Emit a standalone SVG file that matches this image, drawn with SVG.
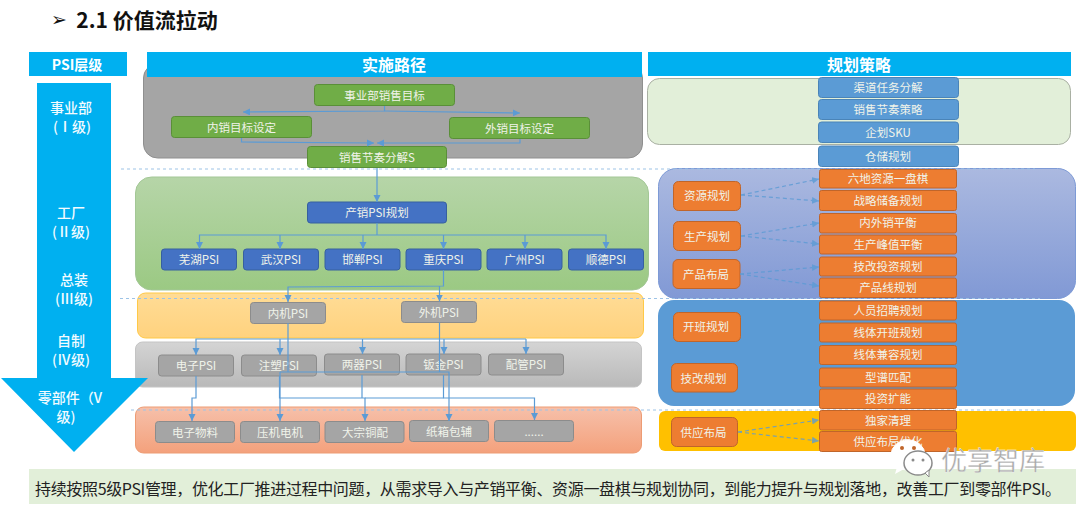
<svg xmlns="http://www.w3.org/2000/svg" width="1080" height="507" viewBox="0 0 1080 507">
<style>
text{font-family:"Noto Sans CJK SC","Noto Sans",sans-serif;text-anchor:middle;dominant-baseline:central}
.t{font-size:11.5px;fill:#f0f3ea}
.hd{font-size:16px;font-weight:700;fill:#fff}
.lv{font-size:14px;fill:#f2fbff;font-weight:500}
.g{fill:#70ad47;stroke:#5a8f38}
.b{fill:#4472c4;stroke:#36609f}
.y{fill:#a5a5a5;stroke:#8c8c8c}
.m{fill:#5b9bd5;stroke:#4a84b8}
.o{fill:#ed7d31;stroke:#c0652a}
.box{stroke-width:1}
.c{fill:none;stroke:#5b9bd5;stroke-width:1.2}
.d{fill:none;stroke:#5b9bd5;stroke-width:1.2;stroke-dasharray:4 3;opacity:.8}
.sep{fill:none;stroke:#9dc3e6;stroke-width:1;stroke-dasharray:3 3}
</style>
<defs>
<marker id="a" markerWidth="8" markerHeight="8" refX="7" refY="3.500" orient="auto" markerUnits="userSpaceOnUse"><path d="M0 0L7 3.500L0 7Z" fill="#5b9bd5"/></marker>
<linearGradient id="pg" x1="0" y1="0" x2="0" y2="1"><stop offset="0" stop-color="#b6d5a8"/><stop offset="1" stop-color="#9bc983"/></linearGradient>
<linearGradient id="pp" x1="0" y1="0" x2="0" y2="1"><stop offset="0" stop-color="#abb9e0"/><stop offset="1" stop-color="#8199d5"/></linearGradient>
<linearGradient id="py" x1="0" y1="0" x2="0" y2="1"><stop offset="0" stop-color="#ffdc96"/><stop offset="1" stop-color="#ffd27e"/></linearGradient>
<linearGradient id="pq" x1="0" y1="0" x2="0" y2="1"><stop offset="0" stop-color="#d4d4d4"/><stop offset="1" stop-color="#b9b9b9"/></linearGradient>
<linearGradient id="ps" x1="0" y1="0" x2="0" y2="1"><stop offset="0" stop-color="#f6c0aa"/><stop offset="1" stop-color="#f4a17c"/></linearGradient>
</defs>
<rect width="1080" height="507" fill="#fff"/>
<g id="title"><text x="59" y="19" font-size="19" style="font-family:'DejaVu Sans',sans-serif" fill="#111">➢</text><text x="147" y="19" font-size="21" font-weight="700" fill="#111">2.1 价值流拉动</text></g>

<g id="panels">
<rect id="panel-biz" x="143.500" y="64" width="499" height="94" rx="14" fill="#a5a5a5" stroke="#8f8f8f"/>
<rect id="panel-factory" x="135.500" y="177" width="513" height="113" rx="16" fill="url(#pg)" stroke="#a3c796"/>
<rect id="panel-assembly" x="137.500" y="293" width="506" height="45" rx="8" fill="url(#py)" stroke="#ffc947"/>
<rect id="panel-self" x="135.500" y="342" width="506" height="45" rx="7" fill="url(#pq)" stroke="#c4c4c4"/>
<rect id="panel-parts" x="135.500" y="407" width="506" height="46" rx="8" fill="url(#ps)" stroke="#ed9c74"/>
<rect id="panel-r1" x="647.500" y="78.500" width="423" height="66" rx="12" fill="#e2efd9" stroke="#a9b0a3"/>
<rect id="panel-r2" x="658.500" y="168.500" width="417" height="130" rx="18" fill="url(#pp)" stroke="#7d9ad6"/>
<rect id="panel-r3" x="658" y="300" width="417" height="106" rx="16" fill="#5b9bd5"/>
<rect id="panel-r4" x="659" y="411" width="417" height="40" rx="6" fill="#ffc000"/>
</g>

<g id="separators">
<path class="sep" d="M121 169H1035"/>
<path class="sep" d="M120 298.500H1040"/>
<path class="sep" d="M131 410H1045"/>
</g>

<g id="head-psi"><rect x="29" y="52" width="98" height="24" fill="#00b0f0"/><text x="77" y="63.500" font-size="14" font-weight="700" fill="#fff">PSI层级</text></g>
<g id="head-path"><rect x="147" y="52" width="495" height="25" fill="#00b0f0"/><text class="hd" x="394" y="63.500">实施路径</text></g>
<g id="head-strategy"><rect x="648" y="52" width="423" height="24" fill="#00b0f0"/><text class="hd" x="859" y="63.500">规划策略</text></g>

<g id="level-arrow">
<path d="M37 83H111V378H148L74 452L1 378H37Z" fill="#00b0f0"/>
<text class="lv" x="71" y="107">事业部</text><text class="lv" x="72" y="126">(Ⅰ级)</text>
<text class="lv" x="71" y="212">工厂</text><text class="lv" x="71" y="231">(Ⅱ级)</text>
<text class="lv" x="74" y="279">总装</text><text class="lv" x="74" y="298">(Ⅲ级)</text>
<text class="lv" x="71" y="340">自制</text><text class="lv" x="71" y="359">(Ⅳ级)</text>
<text class="lv" x="70" y="397">零部件（V</text><text class="lv" x="66" y="416">级)</text>
</g>

<g id="n1"><rect class="box g" x="314.500" y="84.500" width="140" height="21" rx="3"/><text class="t" x="384.500" y="94.500">事业部销售目标</text></g>
<g id="n2"><rect class="box g" x="171.500" y="116.500" width="140" height="21" rx="3"/><text class="t" x="241.500" y="126.500">内销目标设定</text></g>
<g id="n3"><rect class="box g" x="449.500" y="117.500" width="140" height="21" rx="3"/><text class="t" x="519.500" y="127.500">外销目标设定</text></g>
<g id="n4"><rect class="box g" x="307.500" y="146.500" width="139" height="21" rx="3"/><text class="t" x="377" y="156.500">销售节奏分解S</text></g>
<g id="n5"><rect class="box b" x="307.500" y="202" width="139" height="21" rx="3"/><text class="t" x="377" y="212">产销PSI规划</text></g>
<g id="c1"><rect class="box b" x="161.500" y="249" width="75" height="21" rx="3"/><text class="t" x="199" y="259">芜湖PSI</text></g>
<g id="c2"><rect class="box b" x="243.500" y="249" width="75" height="21" rx="3"/><text class="t" x="281" y="259">武汉PSI</text></g>
<g id="c3"><rect class="box b" x="325" y="249" width="75" height="21" rx="3"/><text class="t" x="362.500" y="259">邯郸PSI</text></g>
<g id="c4"><rect class="box b" x="406" y="249" width="75" height="21" rx="3"/><text class="t" x="443.500" y="259">重庆PSI</text></g>
<g id="c5"><rect class="box b" x="487" y="249" width="75" height="21" rx="3"/><text class="t" x="524.500" y="259">广州PSI</text></g>
<g id="c6"><rect class="box b" x="568.500" y="249" width="75" height="21" rx="3"/><text class="t" x="606" y="259">顺德PSI</text></g>
<g id="a1"><rect class="box y" x="250.500" y="302.500" width="75" height="21" rx="3"/><text class="t" x="288" y="312.500">内机PSI</text></g>
<g id="a2"><rect class="box y" x="401.500" y="301.500" width="75" height="21" rx="3"/><text class="t" x="439" y="311.500">外机PSI</text></g>
<g id="s1"><rect class="box y" x="158.500" y="355" width="75" height="21" rx="3"/><text class="t" x="196" y="365">电子PSI</text></g>
<g id="s2"><rect class="box y" x="241.500" y="355" width="75" height="21" rx="3"/><text class="t" x="279" y="365">注塑PSI</text></g>
<g id="s3"><rect class="box y" x="324.500" y="354" width="75" height="21" rx="3"/><text class="t" x="362" y="364">两器PSI</text></g>
<g id="s4"><rect class="box y" x="406" y="354" width="75" height="21" rx="3"/><text class="t" x="443.500" y="364">钣金PSI</text></g>
<g id="s5"><rect class="box y" x="488.500" y="354" width="75" height="21" rx="3"/><text class="t" x="526" y="364">配管PSI</text></g>
<g id="p1"><rect class="box y" x="155.500" y="421.500" width="79" height="21" rx="3"/><text class="t" x="195" y="431.500">电子物料</text></g>
<g id="p2"><rect class="box y" x="240.500" y="421.500" width="79" height="21" rx="3"/><text class="t" x="280" y="431.500">压机电机</text></g>
<g id="p3"><rect class="box y" x="325" y="421.500" width="79" height="21" rx="3"/><text class="t" x="365" y="431.500">大宗铜配</text></g>
<g id="p4"><rect class="box y" x="409.500" y="420.500" width="79" height="21" rx="3"/><text class="t" x="449" y="431">纸箱包辅</text></g>
<g id="p5"><rect class="box y" x="494.500" y="420.500" width="79" height="21" rx="3"/><text class="t" x="534" y="431">......</text></g>

<g id="m1"><rect class="box m" x="818.500" y="77.500" width="140" height="20" rx="3"/><text class="t" x="888" y="87">渠道任务分解</text></g>
<g id="m2"><rect class="box m" x="818.500" y="99.500" width="140" height="20" rx="3"/><text class="t" x="888" y="109">销售节奏策略</text></g>
<g id="m3"><rect class="box m" x="818.500" y="122" width="140" height="20.500" rx="3"/><text class="t" x="888" y="131.500">企划SKU</text></g>
<g id="m4"><rect class="box m" x="818.500" y="146" width="140" height="20.500" rx="3"/><text class="t" x="888" y="155.500">仓储规划</text></g>

<g id="o1"><rect class="box o" x="819.500" y="169.500" width="137" height="18.500" rx="2"/><text class="t" x="888" y="178">六地资源一盘棋</text></g>
<g id="o2"><rect class="box o" x="819.500" y="190.500" width="137" height="20" rx="2"/><text class="t" x="888" y="200">战略储备规划</text></g>
<g id="o3"><rect class="box o" x="819.500" y="213.500" width="137" height="19.500" rx="2"/><text class="t" x="888" y="222">内外销平衡</text></g>
<g id="o4"><rect class="box o" x="819.500" y="235" width="137" height="19" rx="2"/><text class="t" x="888" y="244">生产峰值平衡</text></g>
<g id="o5"><rect class="box o" x="819.500" y="257" width="137" height="19" rx="2"/><text class="t" x="888" y="266">技改投资规划</text></g>
<g id="o6"><rect class="box o" x="819.500" y="278" width="137" height="19.500" rx="2"/><text class="t" x="888" y="287">产品线规划</text></g>
<g id="o7"><rect class="box o" x="819.500" y="301" width="137" height="19" rx="2"/><text class="t" x="888" y="310">人员招聘规划</text></g>
<g id="o8"><rect class="box o" x="819.500" y="323" width="137" height="19" rx="2"/><text class="t" x="888" y="332">线体开班规划</text></g>
<g id="o9"><rect class="box o" x="819.500" y="345.500" width="137" height="19" rx="2"/><text class="t" x="888" y="354">线体兼容规划</text></g>
<g id="o10"><rect class="box o" x="819.500" y="368" width="137" height="19" rx="2"/><text class="t" x="888" y="377">型谱匹配</text></g>
<g id="o11"><rect class="box o" x="819.500" y="389" width="137" height="19.500" rx="2"/><text class="t" x="888" y="398">投资扩能</text></g>
<g id="o12"><rect class="box o" x="819.500" y="410.500" width="137" height="19.500" rx="2"/><text class="t" x="888" y="420">独家清理</text></g>
<g id="o13"><rect class="box o" x="819.500" y="431.500" width="137" height="20" rx="2"/><text class="t" x="888" y="441">供应布局优化</text></g>

<g id="l1"><rect class="box o" x="673.500" y="181.500" width="67" height="29" rx="5"/><text class="t" x="707" y="195">资源规划</text></g>
<g id="l2"><rect class="box o" x="673.500" y="221.500" width="67" height="29" rx="5"/><text class="t" x="707" y="235.500">生产规划</text></g>
<g id="l3"><rect class="box o" x="673" y="259.500" width="67" height="29" rx="5"/><text class="t" x="706" y="273.500">产品布局</text></g>
<g id="l4"><rect class="box o" x="673.500" y="312.500" width="67" height="29" rx="5"/><text class="t" x="706" y="326">开班规划</text></g>
<g id="l5"><rect class="box o" x="671.500" y="363.500" width="66" height="28.500" rx="5"/><text class="t" x="703.500" y="377.500">技改规划</text></g>
<g id="l6"><rect class="box o" x="671.500" y="417.500" width="66" height="29" rx="5"/><text class="t" x="703.500" y="431.500">供应布局</text></g>

<g id="connectors">
<path class="c" d="M384.500 106V111L243 112" marker-end="url(#a)"/>
<path class="c" d="M384.500 111L520 113" marker-end="url(#a)"/>
<path class="c" d="M241.500 138V142L374 143" marker-end="url(#a)"/>
<path class="c" d="M520 139V143L377 143" marker-end="url(#a)"/>
<path class="c" d="M377 168V202" marker-end="url(#a)"/>
<path class="c" d="M377 223V235"/>
<path class="c" d="M377 235H199.500V249" marker-end="url(#a)"/>
<path class="c" d="M280 235V249" marker-end="url(#a)"/>
<path class="c" d="M363 235V249" marker-end="url(#a)"/>
<path class="c" d="M377 235H606V249" marker-end="url(#a)"/>
<path class="c" d="M443.500 235V249" marker-end="url(#a)"/>
<path class="c" d="M525 235V249" marker-end="url(#a)"/>
<path class="c" d="M443.500 270V286L288 287V302" marker-end="url(#a)"/>
<path class="c" d="M439.500 286V301.500" marker-end="url(#a)"/>
<path class="c" d="M288 323V372"/>
<path class="c" d="M280 372H449V421" marker-end="url(#a)"/>
<path class="c" d="M280 372V421" marker-end="url(#a)"/>
<path class="c" d="M439.500 322.500V372"/>
<path class="c" d="M526 339H196V355" marker-end="url(#a)"/>
<path class="c" d="M526 339V354" marker-end="url(#a)"/>
<path class="c" d="M280 339V355" marker-end="url(#a)"/>
<path class="c" d="M362.500 339V354" marker-end="url(#a)"/>
<path class="c" d="M444 339V354" marker-end="url(#a)"/>
<path class="c" d="M196 376V398H192V421" marker-end="url(#a)"/>
<path class="c" d="M279.500 376V398H365V421" marker-end="url(#a)"/>
<path class="c" d="M362 375V398"/>
<path class="c" d="M443.500 375V398H534.500V420" marker-end="url(#a)"/>
<path class="c" d="M443.500 398H365"/>
<path class="d" d="M741 195L819 179" marker-end="url(#a)"/>
<path class="d" d="M741 195L819 201" marker-end="url(#a)"/>
<path class="d" d="M741 236L819 223" marker-end="url(#a)"/>
<path class="d" d="M741 236L819 244" marker-end="url(#a)"/>
<path class="d" d="M740 274L819 267" marker-end="url(#a)"/>
<path class="d" d="M740 274L819 286" marker-end="url(#a)"/>
<path class="d" d="M738 432L819 420" marker-end="url(#a)"/>
<path class="d" d="M738 432L819 441" marker-end="url(#a)"/>
</g>

<g id="summary"><rect x="29" y="469" width="1047" height="35" fill="#e2efd9"/><text x="548" y="487.500" font-size="16" fill="#222" textLength="1026" lengthAdjust="spacing">持续按照5级PSI管理，优化工厂推进过程中问题，从需求导入与产销平衡、资源一盘棋与规划协同，到能力提升与规划落地，改善工厂到零部件PSI。</text></g>

<g id="watermark">
<ellipse cx="908" cy="455" rx="17" ry="15" fill="#fff" stroke="#fff"/>
<path d="M897 467L895 474L904 469Z" fill="#fff"/>
<circle cx="902" cy="448" r="2" fill="#c0652a"/><circle cx="914" cy="448" r="2" fill="#c0652a"/>
<ellipse cx="918" cy="463" rx="14" ry="12" fill="#fff" stroke="#8a8a8a" stroke-width="1.500"/>
<path d="M925 473L929 477L929 470Z" fill="#fff" stroke="#8a8a8a"/>
<circle cx="913" cy="460" r="1.500" fill="#8a8a8a"/><circle cx="923" cy="460" r="1.500" fill="#8a8a8a"/>
<text x="993" y="458" font-size="26" fill="#a8a8a8" stroke="#fff" stroke-width="0.300">优享智库</text>
</g>
</svg>
